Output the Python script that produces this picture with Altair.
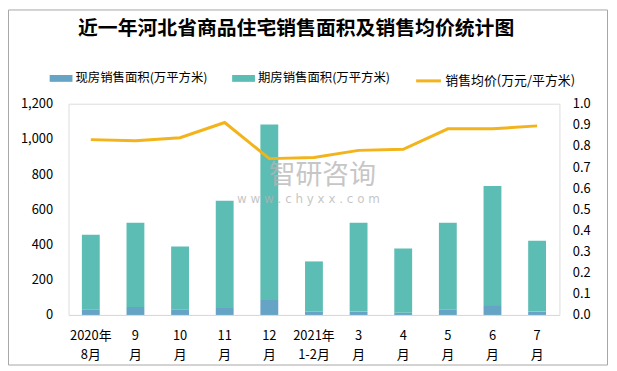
import altair as alt
import pandas as pd

categories = ["2020年\n8月", "9\n月", "10\n月", "11\n月", "12\n月", "2021年\n1-2月",
              "3\n月", "4\n月", "5\n月", "6\n月", "7\n月"]
xianfang = [30, 45, 30, 40, 85, 19, 19, 12, 30, 56, 19]
qifang = [426, 479, 359, 608, 997, 285, 505, 365, 494, 676, 403]
price = [0.830, 0.825, 0.839, 0.911, 0.740, 0.745, 0.779, 0.784, 0.881, 0.881, 0.895]

bar_series = ["现房销售面积(万平方米)", "期房销售面积(万平方米)"]
line_series = ["销售均价(万元/平方米)"]
bar_colors = ["#65a4c4", "#5cbdb5"]
line_colors = ["#f3b31b"]
left_ticks = [0, 200, 400, 600, 800, 1000, 1200]
right_ticks = [round(i * 0.1, 1) for i in range(11)]

FONT = "Noto Sans CJK SC"

rows = []
for c, a, b in zip(categories, xianfang, qifang):
    rows.append({"cat": c, "series": bar_series[0], "value": a, "ord": 0})
    rows.append({"cat": c, "series": bar_series[1], "value": b, "ord": 1})
bar_df = pd.DataFrame(rows)
line_df = pd.DataFrame({"cat": categories, "price": price, "lseries": line_series[0]})
one_row = pd.DataFrame({"k": [0]})

x_enc = alt.X(
    "cat:N", sort=categories,
    scale=alt.Scale(paddingInner=0.6, paddingOuter=0.3),
    axis=alt.Axis(title=None, labelExpr="split(datum.label, '\\n')", labelAngle=0,
                  labelFontSize=13, labelPadding=15, ticks=False, domainColor="#d9d9d9",
                  labelLineHeight=19, labelColor="#000000", labelFont=FONT),
)

bar_legend = alt.Legend(
    orient="none", legendX=-19, legendY=-37, direction="horizontal", title=None,
    labelFontSize=12.5, labelFont=FONT, labelColor="#000000", columnPadding=24, labelOffset=3,
    symbolSize=529, symbolStrokeWidth=0, symbolType="M-1,-0.3H1V0.3H-1Z", symbolOpacity=1,
)
line_legend = alt.Legend(
    orient="none", legendX=349, legendY=-37, direction="horizontal", title=None,
    labelFontSize=13, labelFont=FONT, labelColor="#000000", labelOffset=3,
    symbolSize=625, symbolStrokeWidth=3, symbolType="stroke", symbolOpacity=1,
)

bars = alt.Chart(bar_df).mark_bar().encode(
    x=x_enc,
    y=alt.Y("value:Q", stack="zero", scale=alt.Scale(domain=[0, 1200]),
            axis=alt.Axis(title=None, format=",.0f", values=left_ticks, grid=False, domain=False,
                          ticks=False, labelPadding=16, labelFontSize=13, labelFont=FONT,
                          labelColor="#000000")),
    color=alt.Color("series:N", scale=alt.Scale(domain=bar_series, range=bar_colors),
                    legend=bar_legend),
    order=alt.Order("ord:Q"),
)

line = alt.Chart(line_df).mark_line(strokeWidth=3).encode(
    x=alt.X("cat:N", sort=categories),
    y=alt.Y("price:Q", scale=alt.Scale(domain=[0, 1.0]),
            axis=alt.Axis(title=None, orient="right", format=".1f", values=right_ticks, grid=False,
                          domain=False, ticks=False, labelPadding=13, labelFontSize=13,
                          labelFont=FONT, labelColor="#000000")),
    color=alt.Color("lseries:N", scale=alt.Scale(domain=line_series, range=line_colors),
                    legend=line_legend),
)

wm1 = alt.Chart(one_row).mark_text(text="智研咨询", font=FONT, fontSize=27, color="#b4b4b4",
                                   opacity=0.75, align="left", baseline="middle").encode(
    x=alt.value(202), y=alt.value(73))
wm2 = alt.Chart(one_row).mark_text(text="w w w . c h y x x . c o m", font="DejaVu Sans", fontSize=12,
                                   color="#b4b4b4", opacity=0.75, align="left", baseline="middle").encode(
    x=alt.value(170), y=alt.value(96))

frame = alt.Chart(one_row).mark_rect(fill=None, stroke="#a6a6a6", strokeWidth=1).encode(
    x=alt.value(-60.5), x2=alt.value(543.5), y=alt.value(-94.5), y2=alt.value(263.5))

chart = alt.layer(frame, bars, line, wm1, wm2).resolve_scale(
    y="independent", color="independent"
).properties(
    width=495, height=213,
    autosize=alt.AutoSizeParams(type="none"),
    padding={"left": 61, "top": 95, "right": 50, "bottom": 52},
    title=alt.Title("近一年河北省商品住宅销售面积及销售均价统计图", font=FONT, fontSize=20,
                    fontWeight="bold", color="#000000", anchor="middle", dx=-18, offset=-30),
).configure_view(stroke=None).configure(background="white")

chart.save("out.html", embed_options={"renderer": "svg", "actions": False})
